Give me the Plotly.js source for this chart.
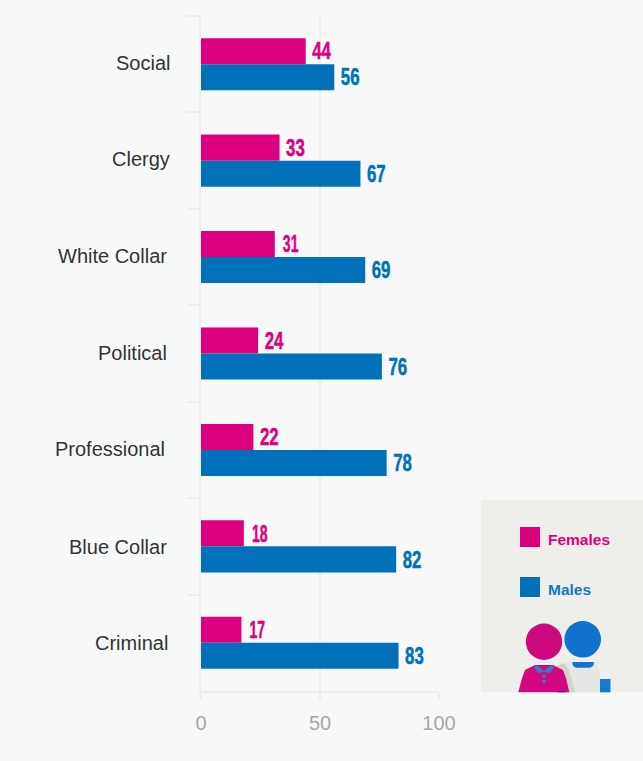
<!DOCTYPE html>
<html>
<head>
<meta charset="utf-8">
<script src="https://cdn.plot.ly/plotly-3.0.1.min.js"></script>
<style>html,body{margin:0;padding:0;background:#f7f9f9}</style>
</head>
<body>
<div id="chart" style="width:643px;height:761px"></div>
<script>
// Occupational categories, top to bottom
const categories = ["Social","Clergy","White Collar","Political","Professional","Blue Collar","Criminal"];
const females = [44,33,31,24,22,18,17];
const males = [56,67,69,76,78,82,83];
const xTicks = [0,50,100];
const labelShiftX = [-29,-29,-32,-32,-34,-32,-31];
const labelShiftY = [1,2,1,1,1,-1,0];

const PINK = "#dc007f", BLUE = "#0070b8", RULE = "#eeeee9", PANEL = "#eeeeea";
const W = 643, H = 761;
const M = {l:201,r:204,t:16,b:70,pad:0};
// Paper coordinates are relative to the plot area, so convert from page pixels
const px = x => (x - M.l) / (W - M.l - M.r), py = y => 1 - (y - M.t) / (H - M.t - M.b);

// Helpers for the legend panel and its figures
const rect = (x0,y0,x1,y1,fill) => ({type:"rect",xref:"paper",yref:"paper",layer:"above",
  x0:px(x0),x1:px(x1),y0:py(y0),y1:py(y1),fillcolor:fill,line:{width:0}});
const circle = (x,y,r,fill) => ({type:"circle",xref:"paper",yref:"paper",layer:"above",
  x0:px(x-r),x1:px(x+r),y0:py(y-r),y1:py(y+r),fillcolor:fill,line:{width:0}});
const poly = (pts,fill) => ({type:"path",xref:"paper",yref:"paper",layer:"above",
  path:"M"+pts.map(p=>px(p[0])+","+py(p[1])).join(" L")+" Z",fillcolor:fill,line:{width:0}});

const BOTTOM = 692.3;
const shapes = [
  Object.assign(rect(481,500,643,BOTTOM,PANEL),{layer:"below"}),
  rect(520,527,540,547,PINK),
  rect(520,577,540,597,BLUE),
  // Male figure
  poly([[558,666],[568,662],[605,662],[609,666],[610.5,672],[610.5,BOTTOM],[560,BOTTOM]],"#e6e6e4"),
  poly([[596,663],[605,662],[609,666],[610.5,672],[610.5,BOTTOM],[600,BOTTOM],[600,672]],"#efefed"),
  poly([[556,666],[564,663],[569,670],[575,BOTTOM],[564,BOTTOM]],"#d2d2cf"),
  poly([[572.3,662],[594,662],[593,666],[590,667.7],[576,667.7],[573,666]],"#1273c9"),
  rect(600,679,610.5,BOTTOM,"#1a78cf"),
  circle(582.7,639.3,18.3,"#0f72cf"),
  // Female figure
  poly([[518.3,BOTTOM],[522,678],[525,670],[535,665],[553,665],[563,670],[566,678],[569.3,BOTTOM]],"#d3087f"),
  poly([[536,664.8],[544,671],[552,664.8],[553.5,668],[550,673],[544,672],[538,673],[534.5,668]],"#2f82cc"),
  circle(544,676,1.8,"#2f82cc"),
  circle(544,681.5,1.8,"#2f82cc"),
  rect(556.7,691,565,BOTTOM,"#6a1a9a"),
  circle(544,641.7,18.2,"#cb0a7f")
];

const annotations = categories.map((c,i) => ({
  x:0,y:c,xref:"x",yref:"y",text:c,showarrow:false,xanchor:"right",yanchor:"middle",
  xshift:labelShiftX[i],yshift:labelShiftY[i],
  font:{family:"Liberation Sans, Arial, sans-serif",size:20,color:"#333333"}
})).concat([
  {x:px(548),y:py(539.5),xref:"paper",yref:"paper",text:"<b>Females</b>",showarrow:false,xanchor:"left",yanchor:"middle",
   xshift:-2,font:{family:"Liberation Sans, Arial, sans-serif",size:15.5,color:PINK}},
  {x:px(548),y:py(589.5),xref:"paper",yref:"paper",text:"<b>Males</b>",showarrow:false,xanchor:"left",yanchor:"middle",
   xshift:-2,font:{family:"Liberation Sans, Arial, sans-serif",size:15.5,color:"#1578bd"}}
]);

const valueFont = color => ({family:"Liberation Sans, Arial, sans-serif",size:24,weight:"bold",color});
const series = (name,vals,color) => ({
  type:"bar",orientation:"h",name,x:vals,y:categories,
  marker:{color,line:{width:0}},
  text:vals.map(String),textposition:"outside",cliponaxis:false,
  textfont:valueFont(color),hoverinfo:"x+name"
});

Plotly.newPlot("chart",[series("Females",females,PINK),series("Males",males,BLUE)],{
  width:W,height:H,showlegend:false,
  paper_bgcolor:"#f7f9f9",plot_bgcolor:"rgba(0,0,0,0)",
  margin:M,
  barmode:"group",bargap:0.46,bargroupgap:0,
  xaxis:{range:[0,100],tickvals:xTicks,ticks:"outside",ticklen:7,tickwidth:2,tickcolor:RULE,
    showgrid:true,gridcolor:RULE,gridwidth:2,zeroline:false,showline:true,linecolor:RULE,linewidth:2,
    ticklabelstandoff:6,tickfont:{family:"Liberation Sans, Arial, sans-serif",size:20,color:"#a8a8a8"}},
  yaxis:{type:"category",categoryorder:"array",categoryarray:categories,autorange:"reversed",
    tickson:"boundaries",ticks:"outside",ticklen:12,tickwidth:2,tickcolor:RULE,showticklabels:false,
    showgrid:false,zeroline:false,showline:true,linecolor:RULE,linewidth:2},
  shapes,annotations
},{displayModeBar:false}).then(gd => {
  // Condense the value labels into a tall, narrow, heavy numeral style
  gd.querySelectorAll(".bartext").forEach(t => {
    const len = [...t.textContent].reduce((s,d) => s + (d === "1" ? 6.5 : 9.7), 0);
    t.setAttribute("textLength", len);
    t.setAttribute("lengthAdjust", "spacingAndGlyphs");
    t.style.stroke = t.style.fill;
    t.style.strokeWidth = "0.5px";
  });
});
</script>
</body>
</html>
